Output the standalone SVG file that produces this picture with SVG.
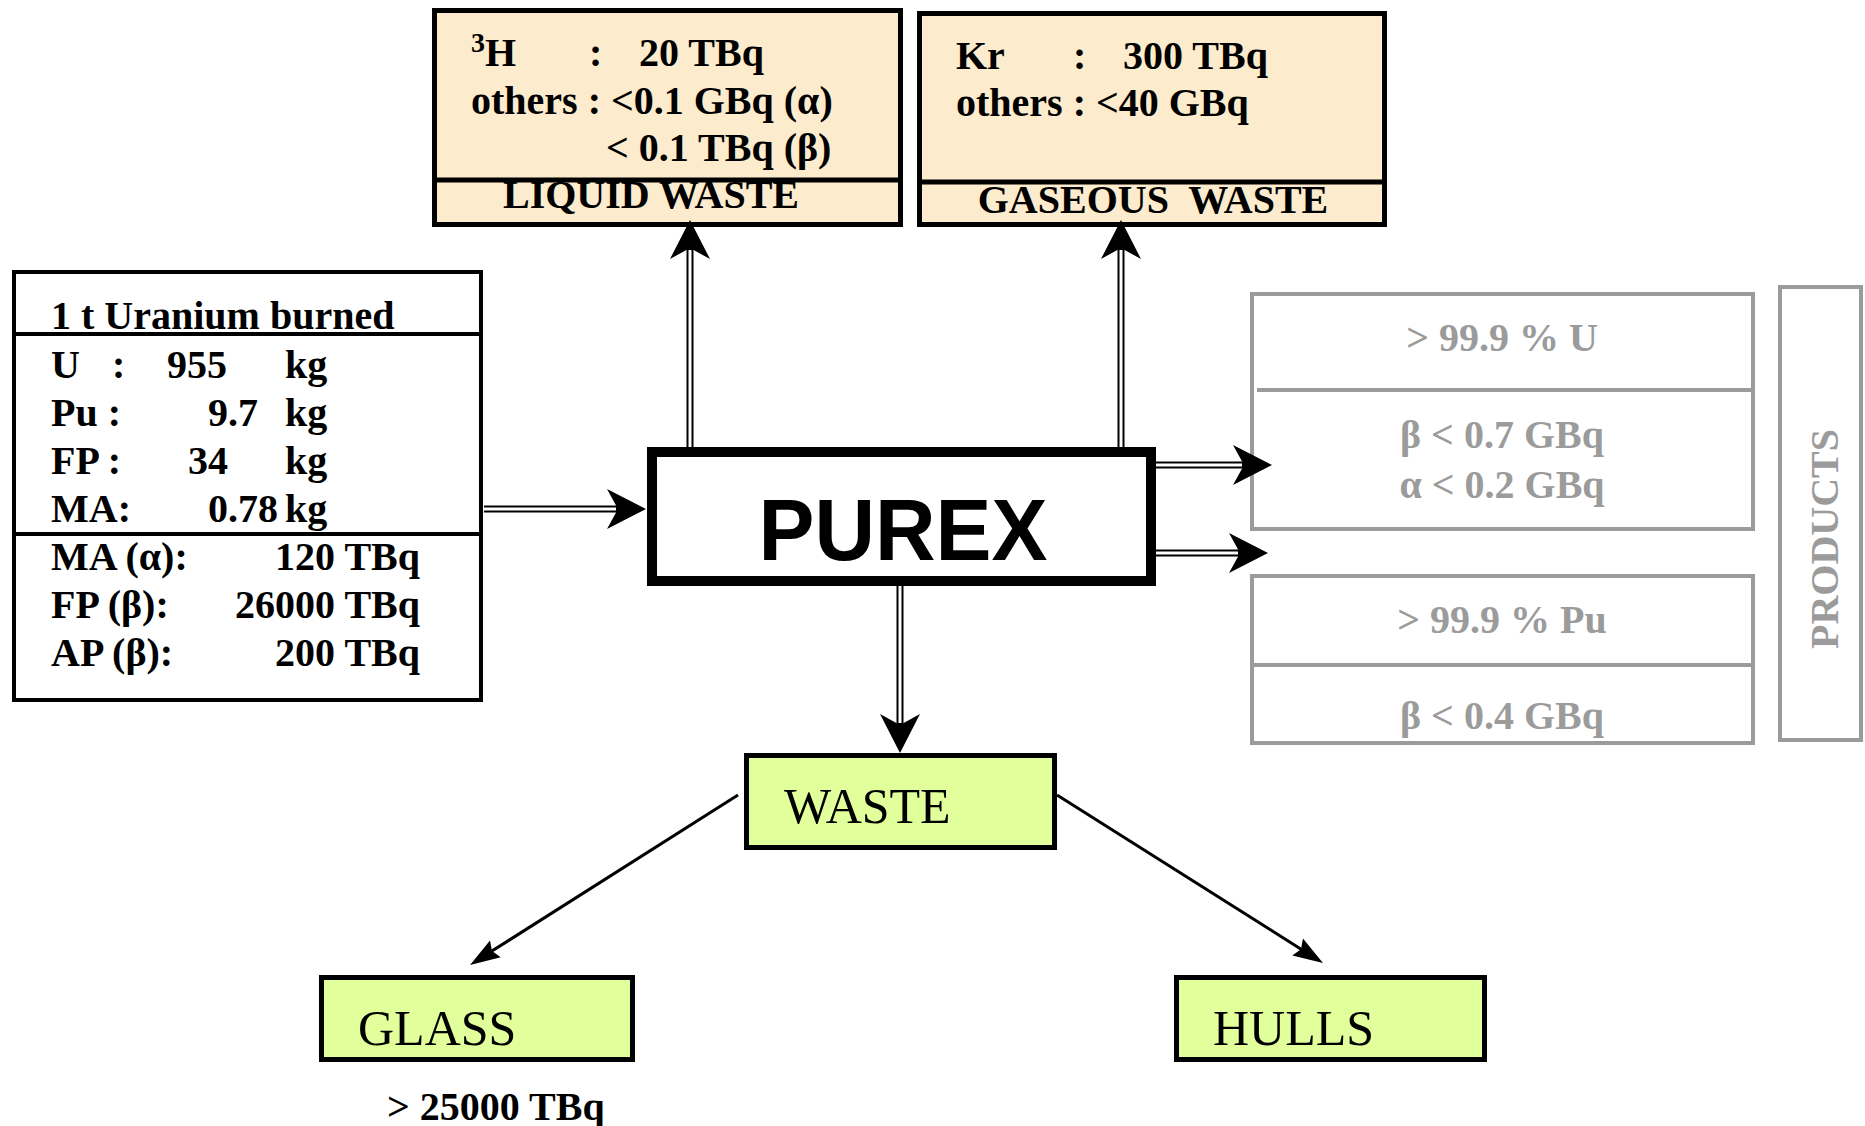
<svg xmlns="http://www.w3.org/2000/svg" width="1865" height="1126" viewBox="0 0 1865 1126">
<defs>
<style>
.b{font-family:"Liberation Serif","Times New Roman",serif;font-weight:bold;font-size:40px;fill:#000}
.r{font-family:"Liberation Serif","Times New Roman",serif;font-size:50px;fill:#000}
.g{font-family:"Liberation Serif","Times New Roman",serif;font-weight:bold;font-size:40px;fill:#9b9b9b}
.beige{fill:#fcebcc;stroke:#000;stroke-width:5}
.green{fill:#e1ff9a;stroke:#000;stroke-width:5}
.blk{fill:#fff;stroke:#000;stroke-width:4}
.gray{fill:#fff;stroke:#9b9b9b;stroke-width:4}
.dbl{fill:none;stroke:#000;stroke-width:7}
.dblw{fill:none;stroke:#fff;stroke-width:3}
.sgl{fill:none;stroke:#000;stroke-width:3}
</style>
<marker id="big" markerUnits="userSpaceOnUse" viewBox="-15 -22 44 44" refX="0" refY="0" markerWidth="44" markerHeight="44" orient="auto">
<path d="M26,0 L-13,-20 L-2,0 L-13,20 Z" fill="#000"/>
</marker>
<marker id="small" markerUnits="userSpaceOnUse" viewBox="-8 -12 34 24" refX="0" refY="0" markerWidth="34" markerHeight="24" orient="auto">
<path d="M24,0 L-6,-10 L-2,0 L-6,10 Z" fill="#000"/>
</marker>
</defs>
<rect width="1865" height="1126" fill="#fff"/>

<g id="liquid-waste">
<rect class="beige" x="434.5" y="10.5" width="466" height="214"/>
<line x1="434" y1="180" x2="901" y2="180" stroke="#000" stroke-width="5"/>
<text class="b" x="471" y="66"><tspan font-size="28" dy="-14">3</tspan><tspan dy="14">H</tspan></text>
<text class="b" x="589" y="66">:</text>
<text class="b" x="639" y="66">20 TBq</text>
<text class="b" x="471" y="114">others : &lt;0.1 GBq (α)</text>
<text class="b" x="606" y="161">&lt; 0.1 TBq (β)</text>
<text class="b" x="651" y="208" text-anchor="middle">LIQUID WASTE</text>
</g>

<g id="gaseous-waste">
<rect class="beige" x="919.5" y="13.5" width="465" height="211"/>
<line x1="919" y1="182" x2="1385" y2="182" stroke="#000" stroke-width="5"/>
<text class="b" x="956" y="69">Kr</text>
<text class="b" x="1073" y="69">:</text>
<text class="b" x="1123" y="69">300 TBq</text>
<text class="b" x="956" y="116">others : &lt;40 GBq</text>
<text class="b" x="1153" y="213" text-anchor="middle" xml:space="preserve">GASEOUS  WASTE</text>
</g>

<g id="uranium">
<rect class="blk" x="14" y="272" width="467" height="428"/>
<line x1="14" y1="334" x2="481" y2="334" stroke="#000" stroke-width="4"/>
<line x1="14" y1="534" x2="481" y2="534" stroke="#000" stroke-width="4"/>
<text class="b" x="51" y="329">1 t Uranium burned</text>
<text class="b" x="51" y="378">U</text><text class="b" x="112" y="378">:</text><text class="b" x="167" y="378">955</text><text class="b" x="285" y="378">kg</text>
<text class="b" x="51" y="426">Pu :</text><text class="b" x="208" y="426">9.7</text><text class="b" x="285" y="426">kg</text>
<text class="b" x="51" y="474">FP :</text><text class="b" x="188" y="474">34</text><text class="b" x="285" y="474">kg</text>
<text class="b" x="51" y="522">MA:</text><text class="b" x="208" y="522">0.78</text><text class="b" x="285" y="522">kg</text>
<text class="b" x="51" y="570">MA (α):</text><text class="b" x="420" y="570" text-anchor="end">120 TBq</text>
<text class="b" x="51" y="618">FP (β):</text><text class="b" x="420" y="618" text-anchor="end">26000 TBq</text>
<text class="b" x="51" y="666">AP (β):</text><text class="b" x="420" y="666" text-anchor="end">200 TBq</text>
</g>

<g id="purex">
<rect x="652" y="452" width="499" height="129" fill="#fff" stroke="#000" stroke-width="10"/>
<text x="903" y="560" text-anchor="middle" font-family="'Liberation Sans',Arial,sans-serif" font-weight="bold" font-size="88" textLength="289" lengthAdjust="spacingAndGlyphs">PUREX</text>
</g>

<g id="product-u">
<rect class="gray" x="1252" y="294" width="501" height="235"/>
<line x1="1257" y1="390" x2="1751" y2="390" stroke="#9b9b9b" stroke-width="4"/>
<text class="g" x="1502" y="351" text-anchor="middle">&gt; 99.9 % U</text>
<text class="g" x="1502" y="448" text-anchor="middle">β &lt; 0.7 GBq</text>
<text class="g" x="1502" y="498" text-anchor="middle">α &lt; 0.2 GBq</text>
</g>

<g id="product-pu">
<rect class="gray" x="1252" y="576" width="501" height="167"/>
<line x1="1254" y1="665" x2="1751" y2="665" stroke="#9b9b9b" stroke-width="4"/>
<text class="g" x="1502" y="633" text-anchor="middle">&gt; 99.9 % Pu</text>
<text class="g" x="1502" y="729" text-anchor="middle">β &lt; 0.4 GBq</text>
</g>

<g id="products">
<rect class="gray" x="1780" y="287" width="81" height="453"/>
<text class="g" transform="translate(1838,539) rotate(-90)" text-anchor="middle">PRODUCTS</text>
</g>

<g id="waste">
<rect class="green" x="746.5" y="755.5" width="308" height="92"/>
<text class="r" x="784" y="823">WASTE</text>
</g>

<g id="glass">
<rect class="green" x="321.5" y="977.5" width="311" height="82"/>
<text class="r" x="358" y="1045">GLASS</text>
<text class="b" x="387" y="1120">&gt; 25000 TBq</text>
</g>

<g id="hulls">
<rect class="green" x="1176.5" y="977.5" width="308" height="82"/>
<text class="r" x="1213" y="1045">HULLS</text>
</g>

<g id="connectors">
<path class="dbl" d="M484,509 H620" marker-end="url(#big)"/>
<path class="dblw" d="M484,509 H616"/>
<path class="dbl" d="M690,447 V246" marker-end="url(#big)"/>
<path class="dblw" d="M690,447 V250"/>
<path class="dbl" d="M1121,447 V246" marker-end="url(#big)"/>
<path class="dblw" d="M1121,447 V250"/>
<path class="dbl" d="M1156,465 H1246" marker-end="url(#big)"/>
<path class="dblw" d="M1156,465 H1242"/>
<path class="dbl" d="M1156,553 H1242" marker-end="url(#big)"/>
<path class="dblw" d="M1156,553 H1238"/>
<path class="dbl" d="M900,586 V727" marker-end="url(#big)"/>
<path class="dblw" d="M900,586 V723"/>
<path class="sgl" d="M738,795 L490.3,952.1" marker-end="url(#small)"/>
<path class="sgl" d="M1057,795 L1302.7,950.2" marker-end="url(#small)"/>
</g>
</svg>
